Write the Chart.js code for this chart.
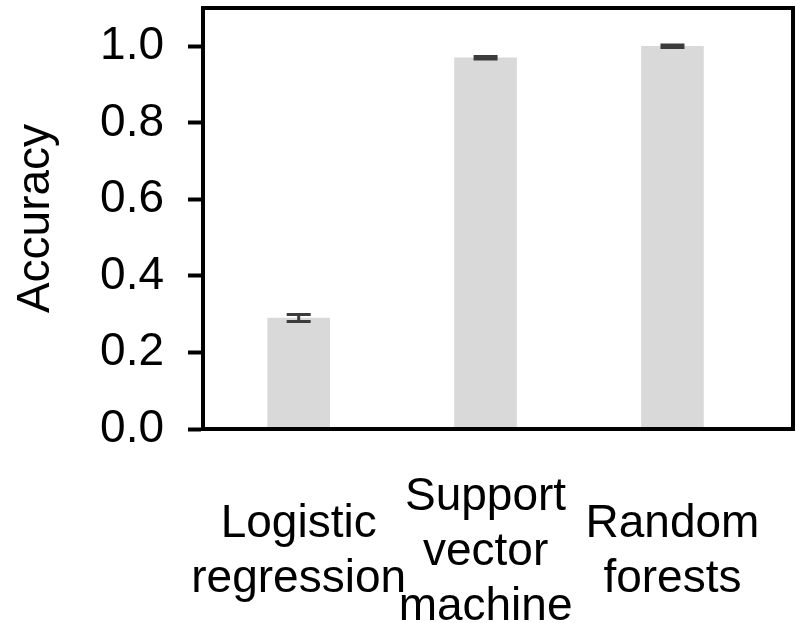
<!DOCTYPE html>
<html>
<head>
<meta charset="utf-8">
<script src="https://cdn.jsdelivr.net/npm/chart.js@4/dist/chart.umd.min.js"></script>
<style>
  html, body { margin: 0; padding: 0; background: #fff; }
  canvas { display: block; }
</style>
</head>
<body>
<canvas id="c" width="796" height="623"></canvas>
<script>
const categories = [["Logistic", "regression"], ["Support", "vector", "machine"], ["Random", "forests"]];
const accuracy = [0.29, 0.97, 1.0];
const accuracyError = [0.009, 0.003, 0.003];
const yTicks = [0.0, 0.2, 0.4, 0.6, 0.8, 1.0];

const FONT = { family: '"Liberation Sans", Arial, Helvetica, sans-serif', size: 46, lineHeight: 1.2 };

const errorBars = {
  id: 'errorBars',
  afterDatasetsDraw(chart) {
    const ctx = chart.ctx;
    const xs = chart.scales.x, ys = chart.scales.y;
    ctx.save();
    ctx.strokeStyle = '#3c3c3c';
    ctx.lineWidth = 3;
    accuracy.forEach((v, i) => {
      const x = xs.getPixelForValue(i);
      const yHi = ys.getPixelForValue(v + accuracyError[i]);
      const yLo = ys.getPixelForValue(v - accuracyError[i]);
      const half = 12;
      ctx.beginPath();
      ctx.moveTo(x, yHi); ctx.lineTo(x, yLo);
      ctx.moveTo(x - half, yHi); ctx.lineTo(x + half, yHi);
      ctx.moveTo(x - half, yLo); ctx.lineTo(x + half, yLo);
      ctx.stroke();
    });
    ctx.restore();
  }
};

const frameBox = {
  id: 'frameBox',
  afterDraw(chart) {
    const a = chart.chartArea, ctx = chart.ctx;
    ctx.save();
    ctx.strokeStyle = '#000';
    ctx.lineWidth = 4;
    ctx.strokeRect(a.left, a.top, a.right - a.left, a.bottom - a.top);
    ctx.restore();
  }
};

function zeroPad(s) { s.paddingTop = 0; s.paddingBottom = 0; s.paddingLeft = 0; s.paddingRight = 0; }

new Chart(document.getElementById('c'), {
  type: 'bar',
  data: {
    datasets: [{
      data: accuracy.map((v, i) => ({ x: i, y: v })),
      backgroundColor: '#d9d9d9',
      borderWidth: 0,
      barThickness: 62
    }]
  },
  options: {
    responsive: false,
    devicePixelRatio: 1,
    animation: false,
    layout: { padding: { left: 0, top: 8, right: 3, bottom: 0 } },
    plugins: { legend: { display: false }, tooltip: { enabled: false } },
    scales: {
      x: {
        type: 'linear',
        offset: false,
        min: -0.512,
        max: 2.645,
        afterBuildTicks: s => { s.ticks = categories.map((_, i) => ({ value: i })); },
        afterFit: s => { s.height = 623 - 429; zeroPad(s); },
        ticks: {
          callback: v => categories[v],
          font: FONT,
          color: '#000',
          padding: 68,
          crossAlign: 'center',
          maxRotation: 0,
          autoSkip: false
        },
        grid: { display: false, drawTicks: false },
        border: { display: true, color: '#000', width: 4 }
      },
      y: {
        min: 0,
        max: 1.1,
        afterBuildTicks: s => { s.ticks = yTicks.map(v => ({ value: v })); },
        afterFit: s => { s.width = 203; zeroPad(s); },
        ticks: {
          callback: v => v.toFixed(1),
          font: FONT,
          color: '#000',
          padding: 24
        },
        grid: { drawOnChartArea: false, drawTicks: true, tickLength: 15, tickWidth: 4, tickColor: '#000' },
        border: { color: '#000', width: 4 },
        title: {
          display: true,
          text: 'Accuracy',
          font: FONT,
          color: '#000',
          padding: { top: 9, bottom: 0 }
        }
      }
    }
  },
  plugins: [errorBars, frameBox]
});
</script>
</body>
</html>
